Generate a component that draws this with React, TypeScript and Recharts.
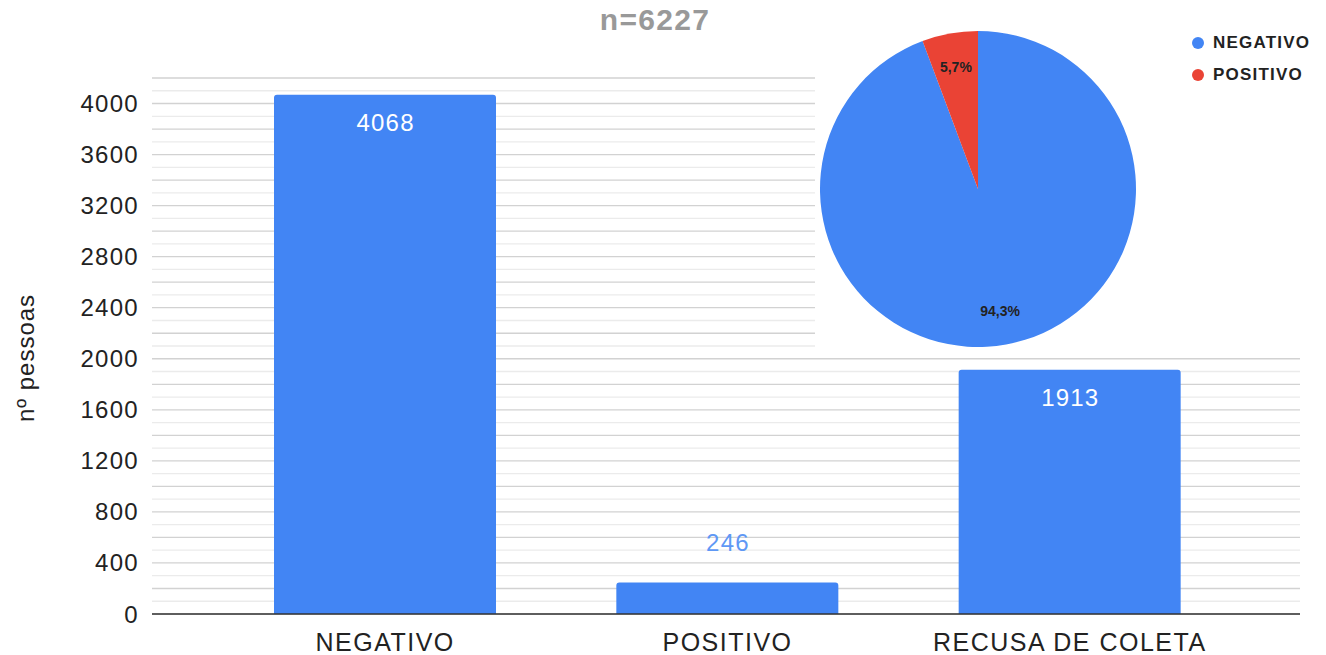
import React from 'react';
import { BarChart, Bar, XAxis, YAxis, CartesianGrid, LabelList, PieChart, Pie, Cell } from 'recharts';

const categories = ['NEGATIVO', 'POSITIVO', 'RECUSA DE COLETA'];
const counts = [4068, 246, 1913];
const yLabelTicks = [0, 400, 800, 1200, 1600, 2000, 2400, 2800, 3200, 3600, 4000];
const yMax = 4200;
const gridStep = 100;
const gridTicks: number[] = [];
for (let v = 0; v <= yMax; v += gridStep) gridTicks.push(v);

const pieLabels = ['NEGATIVO', 'POSITIVO'];
const pieValues = [4068, 246];
const pieColors = ['#4285f4', '#ea4335'];

const barData = categories.map((name, i) => ({ name, value: counts[i] }));
const pieData = pieLabels.map((name, i) => ({ name, value: pieValues[i] }));

const FONT = '"Liberation Sans", Arial, sans-serif';

const gridLine = (props: any) => {
  const { x1, x2, y1, y2, index } = props;
  const major = index % 2 === 0;
  return (
    <line
      key={`g-${index}`}
      x1={x1}
      x2={x2}
      y1={y1}
      y2={y2}
      stroke={major ? '#d2d2d2' : '#ebebeb'}
      strokeWidth={1.3}
    />
  );
};

const renderBarLabel = (props: any) => {
  const { x, y, width, height, value } = props;
  const cx = x + width / 2 + 0.6;
  if (height > 60) {
    return (
      <text x={cx} y={y + 28} textAnchor="middle" dominantBaseline="central" fill="#ffffff" fontSize={24} letterSpacing={1.2} fontFamily={FONT}>
        {value}
      </text>
    );
  }
  return (
    <text x={cx} y={y - 40} textAnchor="middle" dominantBaseline="central" fill="#5f98f5" fontSize={24} letterSpacing={1.2} fontFamily={FONT}>
      {value}
    </text>
  );
};

const RAD = Math.PI / 180;
const renderPieLabel = (props: any) => {
  const { cx, cy, midAngle, outerRadius, percent } = props;
  const r = outerRadius * 0.785;
  const x = cx + r * Math.cos(-midAngle * RAD);
  const y = cy + r * Math.sin(-midAngle * RAD);
  return (
    <text x={x} y={y} textAnchor="middle" dominantBaseline="central" fill="#222" fontSize={14} fontWeight="bold" fontFamily={FONT}>
      {(percent * 100).toFixed(1).replace('.', ',') + '%'}
    </text>
  );
};

export default function App() {
  return (
    <div style={{ position: 'absolute', left: 0, top: 0, width: 1326, height: 655, background: '#fff', fontFamily: FONT, overflow: 'hidden' }}>
      <BarChart width={1326} height={655} data={barData} margin={{ top: 78, right: 26, bottom: 11, left: 0 }}>
        <CartesianGrid vertical={false} horizontal={gridLine} />
        <XAxis
          dataKey="name"
          padding={{ left: 62, right: 59 }}
          tickLine={false}
          axisLine={{ stroke: '#333', strokeWidth: 1.6 }}
          tick={{ fill: '#222', fontSize: 25, fontFamily: FONT, letterSpacing: 1.5 }}
          tickMargin={13}
          interval={0}
        />
        <YAxis
          width={152}
          domain={[0, yMax]}
          ticks={gridTicks}
          interval={0}
          tickFormatter={(v: number) => (yLabelTicks.includes(v) ? String(v) : '')}
          axisLine={false}
          tickLine={false}
          tickMargin={7}
          tick={{ fill: '#222', fontSize: 24, fontFamily: FONT, letterSpacing: 1.3 }}
          label={{
            content: () => (
              <text x={25} y={358} transform="rotate(-90 25 358)" textAnchor="middle" dominantBaseline="central" fill="#222" fontSize={24} letterSpacing={1} fontFamily={FONT}>
                nº pessoas
              </text>
            ),
          }}
        />
        <Bar dataKey="value" fill="#4285f4" barSize={222} radius={[3, 3, 0, 0]} isAnimationActive={false}>
          <LabelList dataKey="value" content={renderBarLabel} />
        </Bar>
      </BarChart>

      <div style={{ position: 'absolute', left: 0, width: 1310, top: 5, textAlign: 'center', fontSize: 30, lineHeight: '30px', fontWeight: 'bold', color: '#999', letterSpacing: 1.3 }}>
        n=6227
      </div>

      <div style={{ position: 'absolute', left: 815, top: 0, width: 511, height: 351, background: '#fff' }}>
        <PieChart width={511} height={351} margin={{ top: 0, right: 0, bottom: 0, left: 0 }}>
          <Pie
            data={pieData}
            dataKey="value"
            nameKey="name"
            cx={163}
            cy={189}
            outerRadius={158}
            startAngle={90}
            endAngle={-270}
            stroke="none"
            labelLine={false}
            label={renderPieLabel}
            isAnimationActive={false}
          >
            {pieData.map((d, i) => (
              <Cell key={d.name} fill={pieColors[i]} />
            ))}
          </Pie>
        </PieChart>
        <div style={{ position: 'absolute', left: 377, top: 32 }}>
          {pieLabels.map((name, i) => (
            <div key={name} style={{ display: 'flex', alignItems: 'center', height: 22, marginBottom: 10 }}>
              <span style={{ display: 'inline-block', width: 12, height: 12, borderRadius: 6, background: pieColors[i], marginRight: 9 }} />
              <span style={{ fontSize: 17, fontWeight: 'bold', color: '#222', letterSpacing: 1.2 }}>{name}</span>
            </div>
          ))}
        </div>
      </div>
    </div>
  );
}
